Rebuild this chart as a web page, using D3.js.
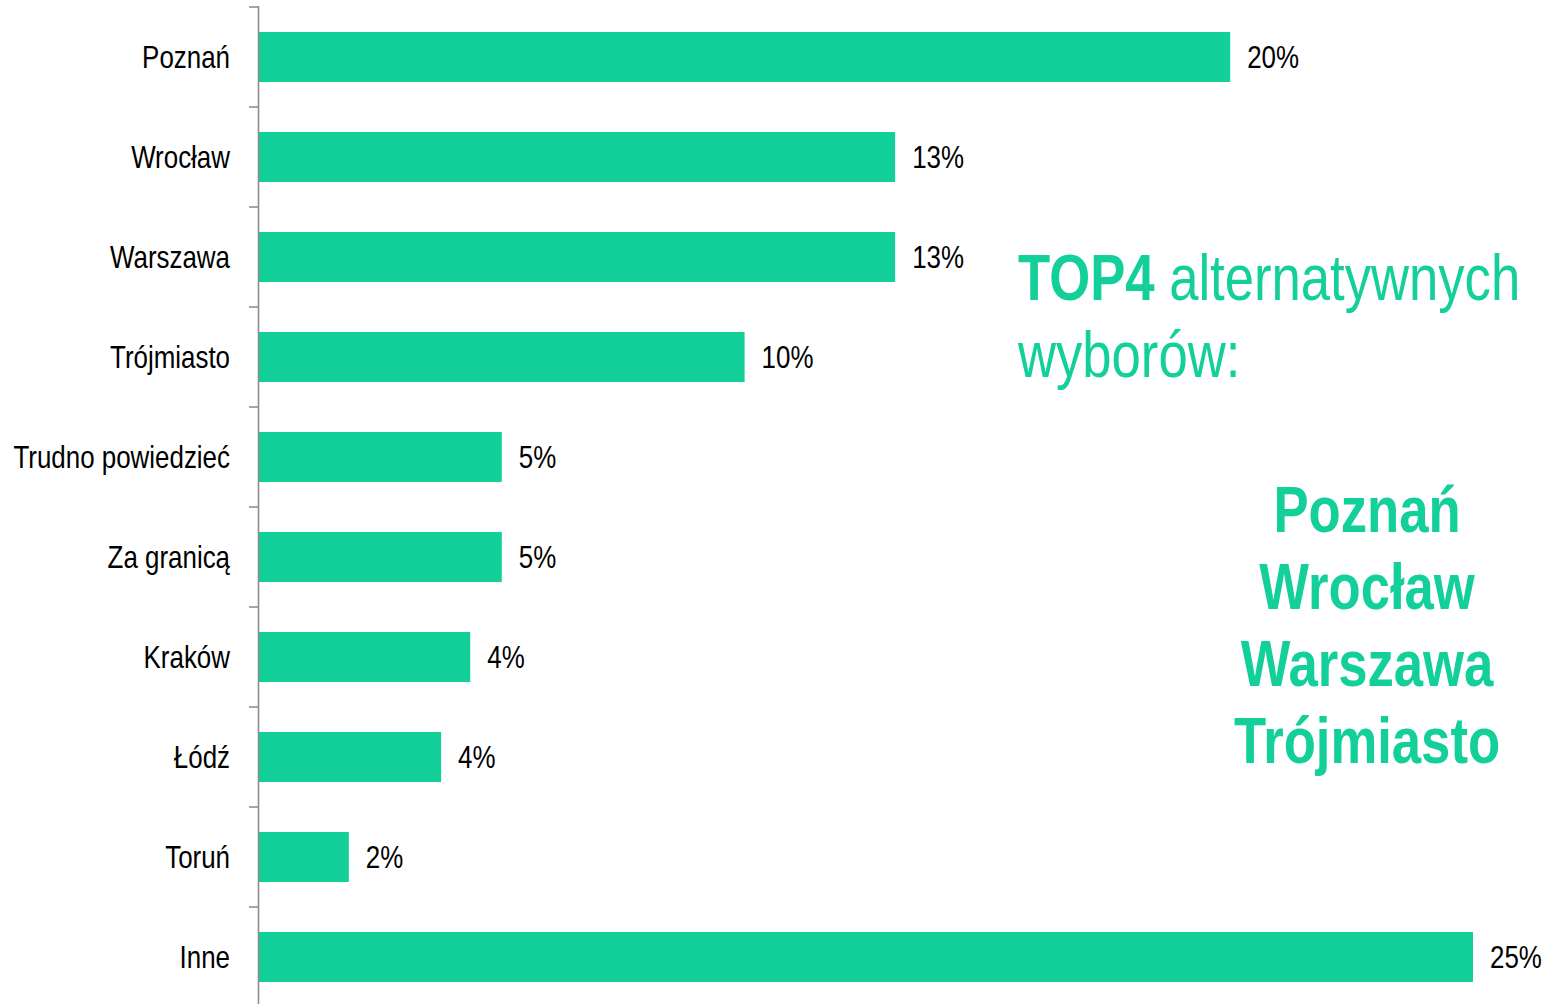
<!DOCTYPE html>
<html>
<head>
<meta charset="utf-8">
<script src="https://cdn.jsdelivr.net/npm/d3@7"></script>
<style>
  html, body { margin: 0; padding: 0; background: #ffffff; }
  svg { display: block; }
  text { font-family: "Liberation Sans", Arial, sans-serif; }
</style>
</head>
<body>
<svg id="chart" width="1546" height="1004"></svg>
<script>
// Alternative study locations (share of answers, %)
const categories = ["Poznań", "Wrocław", "Warszawa", "Trójmiasto", "Trudno powiedzieć",
                    "Za granicą", "Kraków", "Łódź", "Toruń", "Inne"];
const values = [20.0, 13.1, 13.1, 10.0, 5.0, 5.0, 4.35, 3.75, 1.85, 25.0];
const topLabel = "TOP4";
const topTitleRest = " alternatywnych";
const topTitleLine2 = "wyborów:";
const topCities = ["Poznań", "Wrocław", "Warszawa", "Trójmiasto"];

const barColor = "#13cf9a";
const narrow = 0.81;   // horizontal squeeze giving a narrow typeface look
const svg = d3.select("#chart");

const x = d3.scaleLinear().domain([0, 25]).range([259, 1473]);
const y = d3.scaleBand().domain(categories).range([7, 1007]).paddingInner(0.5).paddingOuter(0.25);

const rows = categories.map((c, i) => ({ name: c, value: values[i] }));
const fmt = v => d3.format(".0f")(v) + "%";
const place = (px, py) => `translate(${px},${py}) scale(${narrow},1)`;

// bars
svg.append("g").selectAll("rect").data(rows).join("rect")
  .attr("x", x(0))
  .attr("y", d => y(d.name))
  .attr("width", d => x(d.value) - x(0))
  .attr("height", y.bandwidth())
  .attr("fill", barColor);

// value labels
svg.append("g").selectAll("text").data(rows).join("text")
  .attr("transform", d => place(x(d.value) + 17, y(d.name) + y.bandwidth() / 2))
  .attr("dy", "0.35em")
  .attr("font-size", 32)
  .attr("fill", "#000")
  .text(d => fmt(d.value));

// category axis: line with ticks at band boundaries
const axis = svg.append("g");
axis.append("line")
  .attr("x1", 258.5).attr("x2", 258.5)
  .attr("y1", 6).attr("y2", 1004)
  .attr("stroke", "#8e8e8e").attr("stroke-width", 1.6);
const bounds = categories.map(c => y(c) - y.step() * y.paddingInner() / 2);
axis.selectAll("line.tick").data(bounds).join("line")
  .attr("class", "tick")
  .attr("x1", 249).attr("x2", 258.5)
  .attr("y1", d => d).attr("y2", d => d)
  .attr("stroke", "#8e8e8e").attr("stroke-width", 1.6);
axis.selectAll("text").data(categories).join("text")
  .attr("transform", d => place(230, y(d) + y.bandwidth() / 2))
  .attr("dy", "0.35em")
  .attr("text-anchor", "end")
  .attr("font-size", 32)
  .attr("fill", "#000")
  .text(d => d);

// side annotation
const note = svg.append("g").attr("fill", barColor);
const t1 = note.append("text").attr("transform", place(1018, 300)).attr("font-size", 65);
t1.append("tspan").attr("font-weight", "bold").text(topLabel);
t1.append("tspan").text(topTitleRest);
note.append("text").attr("transform", place(1018, 377)).attr("font-size", 65).text(topTitleLine2);
note.selectAll("text.city").data(topCities).join("text")
  .attr("class", "city")
  .attr("transform", (d, i) => place(1367, 532 + i * 77))
  .attr("text-anchor", "middle")
  .attr("font-size", 65)
  .attr("font-weight", "bold")
  .text(d => d);
</script>
</body>
</html>
